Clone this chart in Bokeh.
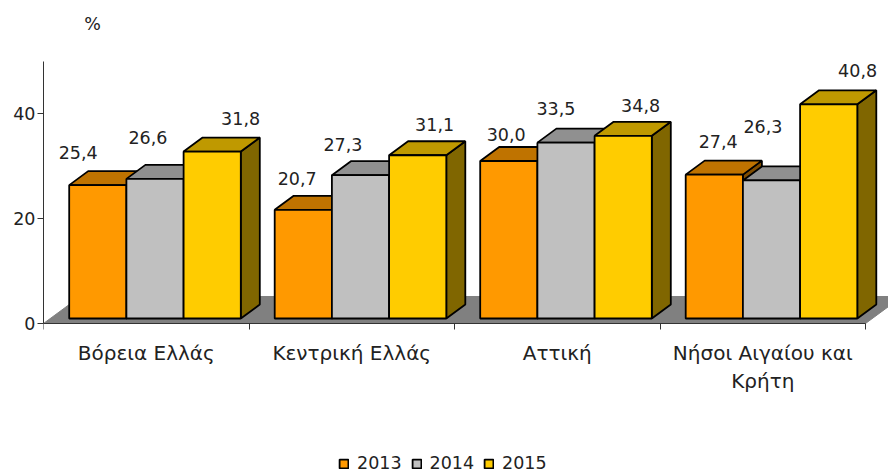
from bokeh.plotting import figure
from bokeh.embed import file_html
from bokeh.resources import INLINE
from bokeh.models import FixedTicker, Legend, LegendItem, LinearAxis, Range1d
from bokeh.core.properties import value

categories = ["Βόρεια Ελλάς", "Κεντρική Ελλάς", "Αττική", "Νήσοι Αιγαίου και\nΚρήτη"]
years = ["2013", "2014", "2015"]
values_2013 = [25.4, 20.7, 30.0, 27.4]
values_2014 = [26.6, 27.3, 33.5, 26.3]
values_2015 = [31.8, 31.1, 34.8, 40.8]
y_ticks = [0, 20, 40]

FONT = "DejaVu Sans"
FS = "17.5px"
FS_CAT = "20px"
series = [values_2013, values_2014, values_2015]
front = ["#FF9900", "#C0C0C0", "#FFCC00"]
top = ["#BF7300", "#909090", "#BF9900"]
side = ["#7F4C00", "#606060", "#806600"]
TXT = "#222222"
LW = 1.8

W, H = 888, 472
L, FRAME_H = 43, 323
B = H - FRAME_H
PX_X = 205.5
PX_Y = 5.25
DX = 19 / PX_X
DY = 14 / PX_Y
BAR_W = 57.2 / PX_X
BASE_Y = 5 / PX_Y
GROUP_X = 25.7 / PX_X

# label offsets (px) from the front-top-left corner of each bar
off_x = [[9, 21.5, 57], [22.5, 11, 45.5], [26, 18.5, 46], [32.5, 20, 57.5]]
off_y = [[-33, -41, -33], [-31, -31, -31], [-26.5, -34, -30], [-33, -54, -34]]

# the frame runs to the foot of the page so that the legend is not clipped by it
p = figure(width=W, height=H, output_backend="svg", toolbar_location=None,
           x_range=Range1d(0, (W - L) / PX_X), y_range=Range1d(-B / PX_Y, FRAME_H / PX_Y),
           x_axis_type=None, y_axis_type=None,
           min_border_left=L, min_border_right=0, min_border_top=0, min_border_bottom=0)
p.outline_line_color = None
p.grid.visible = False
p.background_fill_color = None

# floor
FLOOR_D = 27 / 14
p.patch([0, 4, 4 + DX * FLOOR_D, DX * FLOOR_D], [0, 0, DY * FLOOR_D, DY * FLOOR_D],
        fill_color="#808080", line_color="#808080", line_width=1)

legend_r = {}
for c in range(len(categories)):
    for s in range(len(series)):
        v = series[s][c]
        x0 = c + GROUP_X + s * BAR_W
        x1 = x0 + BAR_W
        y0 = BASE_Y
        y1 = BASE_Y + v
        p.patch([x1, x1 + DX, x1 + DX, x1], [y0, y0 + DY, y1 + DY, y1],
                fill_color=side[s], line_color="black", line_width=LW)
        p.patch([x0, x1, x1 + DX, x0 + DX], [y1, y1, y1 + DY, y1 + DY],
                fill_color=top[s], line_color="black", line_width=LW)
        r = p.quad(left=[x0], right=[x1], bottom=[y0], top=[y1],
                   fill_color=front[s], line_color="black", line_width=LW)
        legend_r.setdefault(s, r)

for c in range(len(categories)):
    for s in range(len(series)):
        v = series[s][c]
        x0 = c + GROUP_X + s * BAR_W
        p.text([x0], [BASE_Y + v], text=[f"{v:.1f}".replace(".", ",")],
               x_offset=off_x[c][s], y_offset=off_y[c][s],
               text_align="center", text_baseline="middle",
               text_font=value(FONT), text_font_size=FS, text_color=TXT)

p.text([49 / PX_X], [300 / PX_Y], text=["%"], text_align="center", text_baseline="middle",
       text_font=value(FONT), text_font_size=FS, text_color=TXT)

y_axis = LinearAxis(ticker=FixedTicker(ticks=y_ticks), bounds=(0, 50))
y_axis.axis_line_color = "#333333"
y_axis.major_tick_line_color = "#333333"
y_axis.major_tick_in = 0
y_axis.major_tick_out = 6
y_axis.minor_tick_line_color = None
y_axis.major_label_text_font = FONT
y_axis.major_label_text_font_size = FS
y_axis.major_label_text_color = TXT
y_axis.major_label_standoff = 2
p.add_layout(y_axis, "left")

mids = [c + 0.5 for c in range(len(categories))]
x_axis = LinearAxis(ticker=FixedTicker(ticks=mids, minor_ticks=list(range(len(categories) + 1))),
                    bounds=(0, 4), fixed_location=0)
x_axis.major_label_overrides = {m: t for m, t in zip(mids, categories)}
x_axis.axis_line_color = "#333333"
x_axis.major_tick_line_color = None
x_axis.minor_tick_line_color = "#333333"
x_axis.minor_tick_in = 0
x_axis.minor_tick_out = 6
x_axis.major_label_text_font = FONT
x_axis.major_label_text_font_size = FS_CAT
x_axis.major_label_text_color = TXT
x_axis.major_label_standoff = 11
p.add_layout(x_axis, "below")

legend = Legend(items=[LegendItem(label=y, renderers=[legend_r[i]]) for i, y in enumerate(years)],
                orientation="horizontal", location=(295, -1),
                glyph_width=11, glyph_height=11, label_standoff=8, spacing=9,
                padding=0, margin=0, border_line_color=None, background_fill_color=None,
                label_text_font=FONT, label_text_font_size=FS, label_text_color=TXT)
p.add_layout(legend, "center")

open("out.html", "w").write(file_html(p, INLINE))
